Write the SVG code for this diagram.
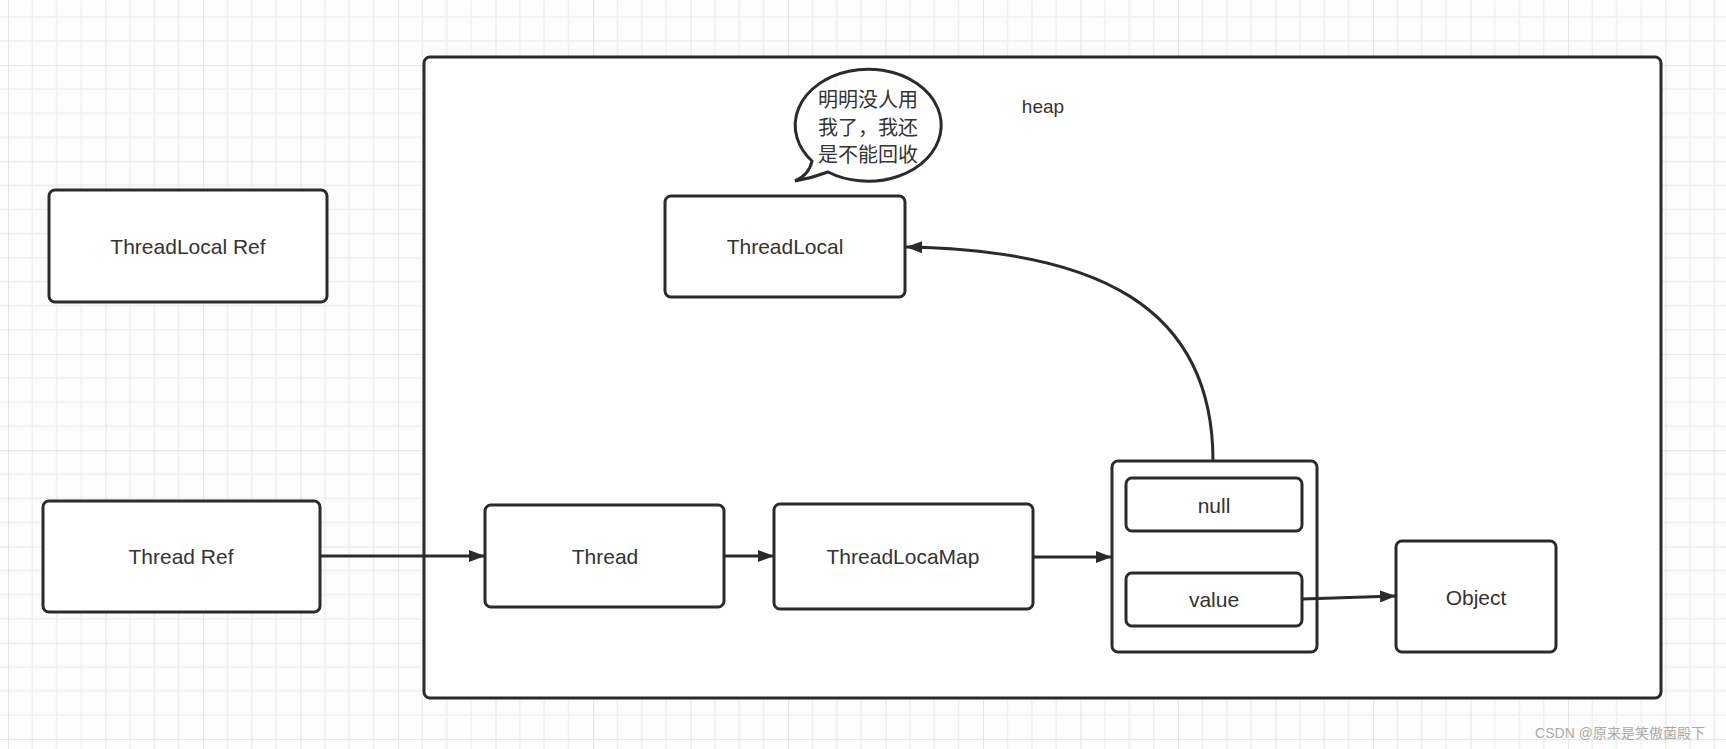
<svg xmlns="http://www.w3.org/2000/svg" width="1726" height="749" viewBox="0 0 1726 749">
  <defs>
    <pattern id="grid" x="8" y="-31.3" width="97.5" height="96.3" patternUnits="userSpaceOnUse">
      <rect width="97.5" height="96.3" fill="#fdfdfd"/>
      <g stroke="#eeeeee" stroke-width="1.5">
        <line x1="24.375" y1="0" x2="24.375" y2="96.3"/>
        <line x1="48.75" y1="0" x2="48.75" y2="96.3"/>
        <line x1="73.125" y1="0" x2="73.125" y2="96.3"/>
        <line x1="0" y1="24.07" x2="97.5" y2="24.07"/>
        <line x1="0" y1="48.15" x2="97.5" y2="48.15"/>
        <line x1="0" y1="72.22" x2="97.5" y2="72.22"/>
      </g>
      <g stroke="#e4e4e4" stroke-width="2">
        <line x1="0" y1="0" x2="0" y2="96.3"/>
        <line x1="0" y1="0" x2="97.5" y2="0"/>
      </g>
    </pattern>
    <marker id="arrow" markerWidth="17" markerHeight="12" refX="16" refY="6" orient="auto" markerUnits="userSpaceOnUse">
      <path d="M0,0 L16,6 L0,12 Z" fill="#2b2b2b"/>
    </marker>
    <style>
      .box { fill: #ffffff; stroke: #2b2b2b; stroke-width: 3; }
      .lbl { font-family: "Liberation Sans", "Noto Sans CJK SC", sans-serif; font-size: 21px; fill: #333333; text-anchor: middle; dominant-baseline: central; }
      .cjk { font-family: "Noto Sans CJK SC", sans-serif; font-size: 20px; fill: #333333; text-anchor: middle; dominant-baseline: central; }
      .conn { fill: none; stroke: #2b2b2b; stroke-width: 3; marker-end: url(#arrow); }
    </style>
  </defs>

  <rect x="0" y="0" width="1726" height="749" fill="url(#grid)"/>

  <g id="heap">
    <rect class="box" x="424" y="57" width="1237" height="641" rx="6"/>
    <text class="lbl" x="1043" y="106" style="font-size:19px">heap</text>
  </g>

  <g id="threadlocal-ref">
    <rect class="box" x="49" y="190" width="278" height="112" rx="6"/>
    <text class="lbl" x="188" y="246">ThreadLocal Ref</text>
  </g>

  <g id="thread-ref">
    <rect class="box" x="43" y="501" width="277" height="111" rx="6"/>
    <text class="lbl" x="181" y="556">Thread Ref</text>
  </g>

  <g id="bubble">
    <path class="box" d="M812,161 Q809,175 795,181 Q812,178 828,172 A73,56 0 1 0 812,161 Z"/>
    <text class="cjk" x="868" y="98">明明没人用</text>
    <text class="cjk" x="868" y="126">我了，我还</text>
    <text class="cjk" x="868" y="153">是不能回收</text>
  </g>

  <g id="threadlocal">
    <rect class="box" x="665" y="196" width="240" height="101" rx="6"/>
    <text class="lbl" x="785" y="246">ThreadLocal</text>
  </g>

  <g id="thread">
    <rect class="box" x="485" y="505" width="239" height="102" rx="6"/>
    <text class="lbl" x="605" y="556">Thread</text>
  </g>

  <g id="threadlocamap">
    <rect class="box" x="774" y="504" width="259" height="105" rx="6"/>
    <text class="lbl" x="903" y="556">ThreadLocaMap</text>
  </g>

  <g id="entry">
    <rect class="box" x="1112" y="461" width="205" height="191" rx="6"/>
  </g>

  <g id="null">
    <rect class="box" x="1126" y="478" width="176" height="53" rx="6"/>
    <text class="lbl" x="1214" y="505">null</text>
  </g>

  <g id="value">
    <rect class="box" x="1126" y="573" width="176" height="53" rx="6"/>
    <text class="lbl" x="1214" y="599">value</text>
  </g>

  <g id="object">
    <rect class="box" x="1396" y="541" width="160" height="111" rx="6"/>
    <text class="lbl" x="1476" y="597">Object</text>
  </g>

  <g id="connectors">
    <path class="conn" d="M320,556 L485,556"/>
    <path class="conn" d="M724,556 L774,556"/>
    <path class="conn" d="M1033,557 L1112,557"/>
    <path class="conn" d="M1302,599 L1396,596"/>
    <path class="conn" d="M1213,461 C1213,305 1095,250 906,247"/>
  </g>

  <text x="1620" y="733" style="font-family:'Liberation Sans','Noto Sans CJK SC',sans-serif;font-size:14px;fill:#aaaaaa;text-anchor:middle;dominant-baseline:central">CSDN @原来是笑傲菌殿下</text>
</svg>
